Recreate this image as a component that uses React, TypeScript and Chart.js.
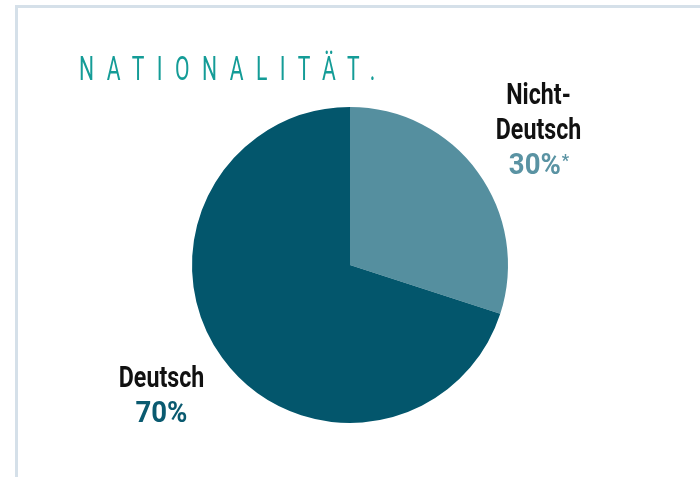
import React, { useEffect, useRef } from "react";
import { Chart, registerables } from "chart.js";

Chart.register(...registerables);

// ---- data ----
const chartTitle = "NATIONALITÄT.";
const categories = ["Nicht-Deutsch", "Deutsch"];
const values = [30, 70];
const labelLines = [["Nicht-", "Deutsch"], ["Deutsch"]];
const percentLabels = ["30%", "70%"];
const footnoteMarks = ["*", ""];

// ---- styles ----
const sliceColors = ["#558f9f", "#03566c"];
const percentColors = ["#5a93a3", "#0a5a70"];
const titleColor = "#149c97";
const frameColor = "#d5e0e9";
const labelVerticalShift = [0, -8];

const sliceLabelPlugin = {
  id: "sliceLabelPlugin",
  beforeDraw(chart: any) {
    const ctx = chart.ctx as CanvasRenderingContext2D;
    ctx.save();
    ctx.fillStyle = frameColor;
    ctx.fillRect(15, 5, chart.width - 15, 3);
    ctx.fillRect(15, 5, 3, chart.height - 5);
    ctx.translate(79, 79.5);
    ctx.scale(0.64, 1);
    ctx.font = "400 33px Roboto";
    (ctx as any).letterSpacing = "19.5px";
    ctx.fillStyle = titleColor;
    ctx.textBaseline = "alphabetic";
    ctx.textAlign = "left";
    ctx.fillText(chartTitle, 0, 0);
    ctx.restore();
  },
  afterDraw(chart: any) {
    const ctx = chart.ctx as CanvasRenderingContext2D;
    const meta = chart.getDatasetMeta(0);
    const mainFont = "700 29px Roboto";
    const markFont = "700 17px Roboto";
    meta.data.forEach((arc: any, i: number) => {
      const p = arc.getProps(["x", "y", "startAngle", "endAngle", "outerRadius"], true);
      const mid = (p.startAngle + p.endAngle) / 2;
      const d = p.outerRadius + 75;
      const ax = p.x + Math.cos(mid) * d;
      const ay = p.y + Math.sin(mid) * d + labelVerticalShift[i];
      const lines = [...labelLines[i], percentLabels[i]];
      const n = lines.length;
      lines.forEach((t, j) => {
        const by = ay + (j - (n - 1) / 2) * 35 + 10.5;
        const isPct = j === n - 1;
        ctx.save();
        ctx.translate(ax, by);
        ctx.scale(isPct ? 0.95 : 0.8, 1);
        ctx.textBaseline = "alphabetic";
        ctx.fillStyle = isPct ? percentColors[i] : "#111111";
        ctx.font = mainFont;
        if (isPct && footnoteMarks[i]) {
          const w = ctx.measureText(t).width;
          ctx.font = markFont;
          const m = ctx.measureText(footnoteMarks[i]).width;
          const left = -(w + m) / 2;
          ctx.textAlign = "left";
          ctx.font = mainFont;
          ctx.fillText(t, left, 0);
          ctx.font = markFont;
          ctx.fillText(footnoteMarks[i], left + w + 1, -8);
        } else {
          ctx.textAlign = "center";
          ctx.fillText(t, 0, 0);
        }
        ctx.restore();
      });
    });
  },
};

export default function App() {
  const canvasRef = useRef<HTMLCanvasElement | null>(null);

  useEffect(() => {
    if (!canvasRef.current) return;
    const chart = new Chart(canvasRef.current, {
      type: "pie",
      data: {
        labels: categories,
        datasets: [
          {
            data: values,
            backgroundColor: sliceColors,
            borderWidth: 0,
          },
        ],
      },
      options: {
        responsive: false,
        animation: false,
        layout: { padding: { left: 191, right: 191, top: 107, bottom: 54 } },
        plugins: {
          legend: { display: false },
          title: { display: false },
          tooltip: { enabled: false },
        },
      },
      plugins: [sliceLabelPlugin],
    });
    return () => chart.destroy();
  }, []);

  return (
    <div style={{ position: "absolute", left: 0, top: 0, width: 700, height: 477, background: "#fff" }}>
      <canvas ref={canvasRef} width={700} height={477} style={{ display: "block" }} />
    </div>
  );
}
